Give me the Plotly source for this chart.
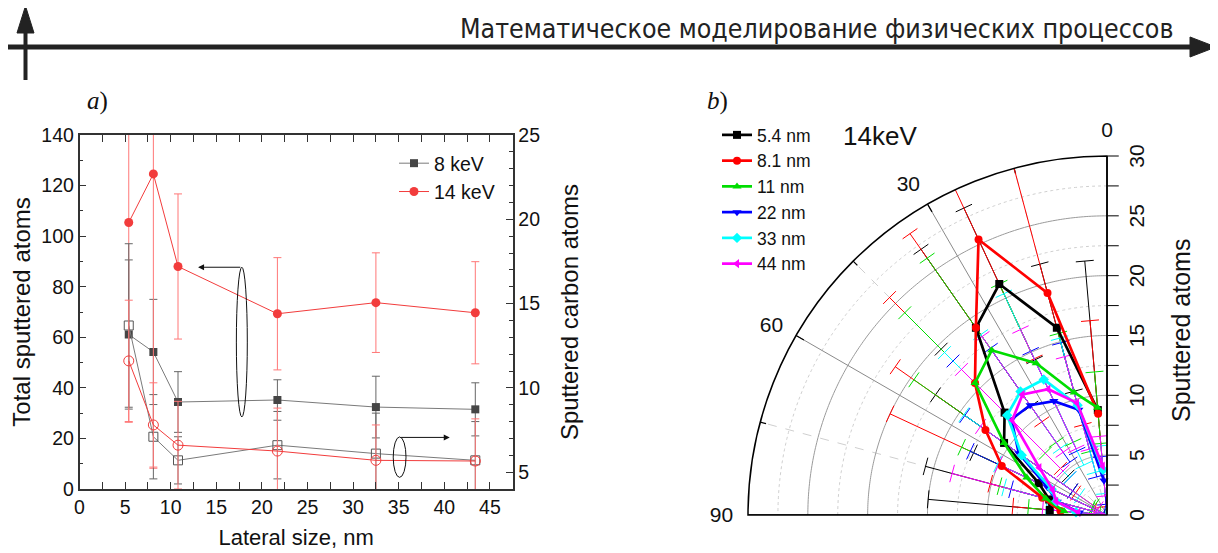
import numpy as np
import plotly.graph_objects as go

# page body has an 8 px margin: the figure is drawn offset by OFF pixels
OFF = 8
W, H = 1218 - OFF, 553 - OFF

# ---------------- panel a) data ----------------
lateral = [5.4, 8.1, 10.8, 21.7, 32.5, 43.4]
total_8 = [61.1, 54.2, 34.4, 35.2, 32.4, 31.5]
total_8_err = [29.5, 20.8, 12.0, 8.0, 12.2, 10.5]
total_14 = [105.4, 124.6, 88.0, 69.3, 73.7, 69.7]
total_14_err = [79.0, 116.4, 28.7, 22.2, 19.7, 20.2]
carbon_8 = [13.7, 7.1, 5.7, 6.6, 6.1, 5.7]
carbon_8_err = [4.85, 2.5, 1.4, 2.0, 2.4, 2.3]
carbon_14 = [11.6, 7.8, 6.6, 6.25, 5.7, 5.66]
carbon_14_err = [3.6, 2.5, 2.6, 2.55, 2.1, 2.5]

# ---------------- panel b) data ----------------
angles = [5, 15, 25, 35, 45, 55, 65, 75, 85]
size_labels = ["5.4 nm", "8.1 nm", "11 nm", "22 nm", "33 nm", "44 nm"]
sputter_54 = [8.8, 16.2, 21.3, 19.1, 12.1, 10.5, 6.3, 5.0, 4.8]
sputter_81 = [8.5, 19.2, 25.4, 19.1, 15.6, 12.4, 9.7, 5.6, 3.9]
sputter_11 = [9.0, 10.6, 14.0, 16.8, 15.6, 10.5, 7.4, 5.3, 3.6]
sputter_22 = [2.9, 9.1, 10.5, 11.2, 11.3, 9.0, 5.5, 4.3, 2.3]
sputter_33 = [3.8, 9.5, 12.5, 12.6, 11.8, 8.7, 5.1, 4.4, 2.6]
sputter_44 = [4.1, 9.7, 11.6, 12.3, 11.2, 6.9, 5.0, 4.4, 2.4]
err_54 = [12.5, 5.5, 7.0, 8.0, 7.5, 7.0, 6.0, 10.7, 10.2]
err_81 = [7.8, 11.4, 11.0, 9.6, 10.1, 9.2, 10.3, 4.5, 4.0]
err_11 = [3.0, 5.1, 7.3, 9.4, 8.3, 9.2, 6.0, 4.0, 3.0]
err_22 = [2.0, 5.8, 4.6, 5.8, 6.9, 5.5, 7.1, 4.0, 2.5]
err_33 = [2.0, 5.8, 7.9, 5.8, 7.4, 5.9, 5.0, 4.5, 2.5]
err_44 = [2.5, 4.0, 5.5, 5.9, 6.0, 6.0, 5.0, 9.0, 3.0]

radial_ticks = [0, 2.5, 5, 7.5, 10, 12.5, 15, 17.5, 20, 22.5, 25, 27.5, 30]
radial_major_grid = [5, 10, 15, 20, 25]
radial_minor_grid = [2.5, 7.5, 12.5, 17.5, 22.5, 27.5]
angular_ticks = [0, 15, 30, 45, 60, 75, 90]
angular_major_grid = [30, 60]
angular_minor_grid = [15, 45, 75]
R_MAX = 30

FONT = "Liberation Sans, Arial, sans-serif"


def px(x):
    return (x - OFF) / W


def py(y):
    return 1 - (y - OFF) / H


fig = go.Figure()

# ---------------- panel a) traces ----------------
GRAY_LINE = "#7a7a7a"
GRAY_MARK = "#454545"
RED = "#f23c3c"
RED_LIGHT = "#f77"

fig.add_trace(go.Scatter(
    x=lateral, y=total_8, name="8 keV", mode="lines+markers",
    line=dict(color=GRAY_LINE, width=1),
    marker=dict(symbol="square", size=8, color=GRAY_MARK),
    error_y=dict(type="data", array=total_8_err, color="#666", thickness=1, width=4),
    legend="legend"))
fig.add_trace(go.Scatter(
    x=lateral, y=total_14, name="14 keV", mode="lines+markers",
    line=dict(color=RED, width=1),
    marker=dict(symbol="circle", size=9, color=RED),
    error_y=dict(type="data", array=total_14_err, color=RED_LIGHT, thickness=1, width=4),
    legend="legend"))
fig.add_trace(go.Scatter(
    x=lateral, y=carbon_8, yaxis="y2", mode="lines+markers", showlegend=False,
    line=dict(color=GRAY_LINE, width=1),
    marker=dict(symbol="square-open", size=9, color="#555", line=dict(width=1)),
    error_y=dict(type="data", array=carbon_8_err, color="#666", thickness=1, width=4)))
fig.add_trace(go.Scatter(
    x=lateral, y=carbon_14, yaxis="y2", mode="lines+markers", showlegend=False,
    line=dict(color=RED, width=1),
    marker=dict(symbol="circle-open", size=10, color=RED, line=dict(width=1)),
    error_y=dict(type="data", array=carbon_14_err, color=RED_LIGHT, thickness=1, width=4)))

# ---------------- panel b) grid (drawn as traces) ----------------
arc_theta = np.linspace(0, 90, 181)
for rv in radial_minor_grid:
    fig.add_trace(go.Scatterpolar(r=[rv] * len(arc_theta), theta=arc_theta, mode="lines",
                                  line=dict(color="#cfcfcf", width=1, dash="dot"),
                                  showlegend=False, hoverinfo="skip"))
for av in angular_minor_grid:
    fig.add_trace(go.Scatterpolar(r=[0, R_MAX], theta=[av, av], mode="lines",
                                  line=dict(color="#cfcfcf", width=1, dash="dash"),
                                  showlegend=False, hoverinfo="skip"))
for rv in radial_major_grid:
    fig.add_trace(go.Scatterpolar(r=[rv] * len(arc_theta), theta=arc_theta, mode="lines",
                                  line=dict(color="#9a9a9a", width=1),
                                  showlegend=False, hoverinfo="skip"))
for av in angular_major_grid:
    fig.add_trace(go.Scatterpolar(r=[0, R_MAX], theta=[av, av], mode="lines",
                                  line=dict(color="#8a8a8a", width=1),
                                  showlegend=False, hoverinfo="skip"))
fig.add_trace(go.Scatterpolar(r=[0, R_MAX], theta=[90, 90], mode="lines",
                              line=dict(color="black", width=1.5),
                              showlegend=False, hoverinfo="skip"))
# inward angular ticks on the outer arc
tick_r, tick_th = [], []
for av in angular_ticks[1:-1]:
    tick_r += [R_MAX, R_MAX * (1 - (9 if av % 30 == 0 else 6) / 359), None]
    tick_th += [av, av, None]
fig.add_trace(go.Scatterpolar(r=tick_r, theta=tick_th, mode="lines",
                              line=dict(color="black", width=1.2),
                              showlegend=False, hoverinfo="skip"))

# ---------------- panel b) series ----------------
R_PX = 359 / R_MAX
CAP_PX = 9
series = [
    (size_labels[0], sputter_54, err_54, "#000000", "square"),
    (size_labels[1], sputter_81, err_81, "#ff0000", "circle"),
    (size_labels[2], sputter_11, err_11, "#00dd00", "triangle-up"),
    (size_labels[3], sputter_22, err_22, "#0000ff", "triangle-down"),
    (size_labels[4], sputter_33, err_33, "#00ffff", "diamond"),
    (size_labels[5], sputter_44, err_44, "#ff00ff", "triangle-left"),
]


def error_trace(vals, errs, color):
    r, th = [], []
    h = CAP_PX / R_PX
    for a, v, e in zip(angles, vals, errs):
        lo, hi = max(v - e, 0), min(v + e, R_MAX)
        r += [lo, hi, None]
        th += [a, a, None]
        for end, clipped in ((lo, v - e <= 0), (hi, v + e >= R_MAX)):
            if clipped:
                continue
            rr = float(np.hypot(end, h))
            d = float(np.degrees(np.arctan2(h, end)))
            r += [rr, rr, None]
            th += [a - d, a + d, None]
    return go.Scatterpolar(r=r, theta=th, mode="lines", connectgaps=False,
                           line=dict(color=color, width=1),
                           showlegend=False, hoverinfo="skip")


for name, vals, errs, color, sym in series:
    fig.add_trace(error_trace(vals, errs, color))
for name, vals, errs, color, sym in series:
    fig.add_trace(go.Scatterpolar(
        r=vals, theta=angles, name=name, mode="lines+markers",
        line=dict(color=color, width=2.7),
        marker=dict(symbol=sym, size=8, color=color),
        legend="legend2"))

# ---------------- layout ----------------
axis_common = dict(showline=True, linecolor="#333", linewidth=1.5, showgrid=False,
                   zeroline=False, ticks="inside", tickcolor="#333", automargin=False,
                   tickfont=dict(size=19.5, color="#111"))

fig.update_layout(
    width=W, height=H,
    margin=dict(l=0, r=0, t=0, b=0, pad=0, autoexpand=False),
    paper_bgcolor="white", plot_bgcolor="white",
    font=dict(family=FONT, color="#111"),
    xaxis=dict(domain=[px(79.5), px(512.7)], range=[0, 47.5], dtick=5, tick0=0,
               ticklen=7, mirror="allticks",
               minor=dict(dtick=2.5, ticks="inside", ticklen=4, tickcolor="#333"),
               title=dict(text="Lateral size, nm", font=dict(size=22), standoff=12),
               **axis_common),
    yaxis=dict(domain=[py(489), py(135)], range=[0, 140], dtick=20, ticklen=7,
               mirror=True,
               minor=dict(dtick=10, ticks="inside", ticklen=4, tickcolor="#333"),
               title=dict(text="Total sputtered atoms", font=dict(size=24), standoff=4),
               **axis_common),
    yaxis2=dict(overlaying="y", side="right", anchor="x", range=[4, 25],
                tickvals=[5, 10, 15, 20, 25], ticklen=7,
                minor=dict(dtick=1, ticks="inside", ticklen=4, tickcolor="#333"),
                title=dict(text="Sputtered carbon atoms", font=dict(size=24), standoff=22),
                **axis_common),
    legend=dict(x=px(394), y=py(144), xanchor="left", yanchor="top",
                bgcolor="rgba(0,0,0,0)", font=dict(size=19.5, color="#111"),
                tracegroupgap=0),
    legend2=dict(x=px(717), y=py(117), xanchor="left", yanchor="top",
                 bgcolor="rgba(0,0,0,0)", font=dict(size=17.5, color="#111"),
                 tracegroupgap=0),
    polar=dict(
        domain=dict(x=[px(1107 - 359), px(1107)], y=[py(515), py(156)]),
        sector=[90, 180],
        bgcolor="white",
        angularaxis=dict(rotation=90, direction="counterclockwise",
                         tickvals=angular_ticks,
                         ticktext=[str(t) if t % 30 == 0 else "" for t in angular_ticks],
                         ticks="outside", ticklen=10, tickcolor="rgba(0,0,0,0)",
                         showline=True, linecolor="black", linewidth=1.5,
                         showgrid=False, tickfont=dict(size=21, color="#111")),
        radialaxis=dict(range=[0, R_MAX], angle=90, side="clockwise",
                        tickvals=radial_ticks,
                        ticktext=[("%g" % t) if t % 5 == 0 else "" for t in radial_ticks],
                        ticks="outside", ticklen=11, tickcolor="black",
                        showline=True, linecolor="black", linewidth=1.5,
                        showgrid=False, tickangle=0,
                        tickfont=dict(size=21, color="#111")),
    ),
)

# ---------------- annotations & decorations ----------------
ann = []


def note(x, y, text, size, **kw):
    d = dict(x=px(x), y=py(y), xref="paper", yref="paper", text=text, showarrow=False,
             xanchor=kw.pop("xanchor", "center"), yanchor="middle",
             font=dict(size=size, color=kw.pop("color", "#111"),
                       family=kw.pop("family", FONT)))
    d.update(kw)
    ann.append(d)


note(1181, 331, "Sputtered atoms", 25, textangle=-90)
note(880, 136, "14keV", 26)
note(97, 101, "<i>a</i>)", 25, family="Liberation Serif, serif")
note(717, 101, "<i>b</i>)", 25, family="Liberation Serif, serif")
note(1176, 29, "Математическое моделирование физических процессов", 26.5, xanchor="right",
     color="#222",
     family="Liberation Sans Narrow, DejaVu Sans Condensed, Roboto Condensed, Arial Narrow, sans-serif")
# arrows pointing to the axes
ann.append(dict(x=13.0, y=87.7, xref="x", yref="y", ax=17.8, ay=87.7, axref="x", ayref="y",
                text="", showarrow=True, arrowhead=2, arrowsize=1.2, arrowwidth=1, arrowcolor="#111"))
ann.append(dict(x=40.6, y=20.4, xref="x", yref="y", ax=35.1, ay=20.4, axref="x", ayref="y",
                text="", showarrow=True, arrowhead=2, arrowsize=1.2, arrowwidth=1, arrowcolor="#111"))
fig.update_layout(annotations=ann)

shapes = []
shapes.append(dict(type="circle", xref="x", yref="y", x0=17.2, x1=18.4, y0=28.5, y1=87.7,
                   line=dict(color="#111", width=1)))
shapes.append(dict(type="circle", xref="x", yref="y", x0=34.4, x1=35.8, y0=4.6, y1=20.6,
                   line=dict(color="#111", width=1)))
# header arrows
shapes.append(dict(type="line", xref="paper", yref="paper", x0=px(0), x1=px(1196), y0=py(47), y1=py(47),
                   line=dict(color="#222", width=5)))
shapes.append(dict(type="path", xref="paper", yref="paper",
                   path="M %f,%f L %f,%f L %f,%f Z" % (px(1190), py(37), px(1216), py(47), px(1190), py(57)),
                   fillcolor="#222", line=dict(color="#222", width=1)))
shapes.append(dict(type="line", xref="paper", yref="paper", x0=px(25.5), x1=px(25.5), y0=py(80), y1=py(28),
                   line=dict(color="#222", width=4)))
shapes.append(dict(type="path", xref="paper", yref="paper",
                   path="M %f,%f L %f,%f L %f,%f Z" % (px(17), py(33), px(25.5), py(6), px(34), py(33)),
                   fillcolor="#222", line=dict(color="#222", width=1)))
fig.update_layout(shapes=shapes)

fig.write_html("out.html")
